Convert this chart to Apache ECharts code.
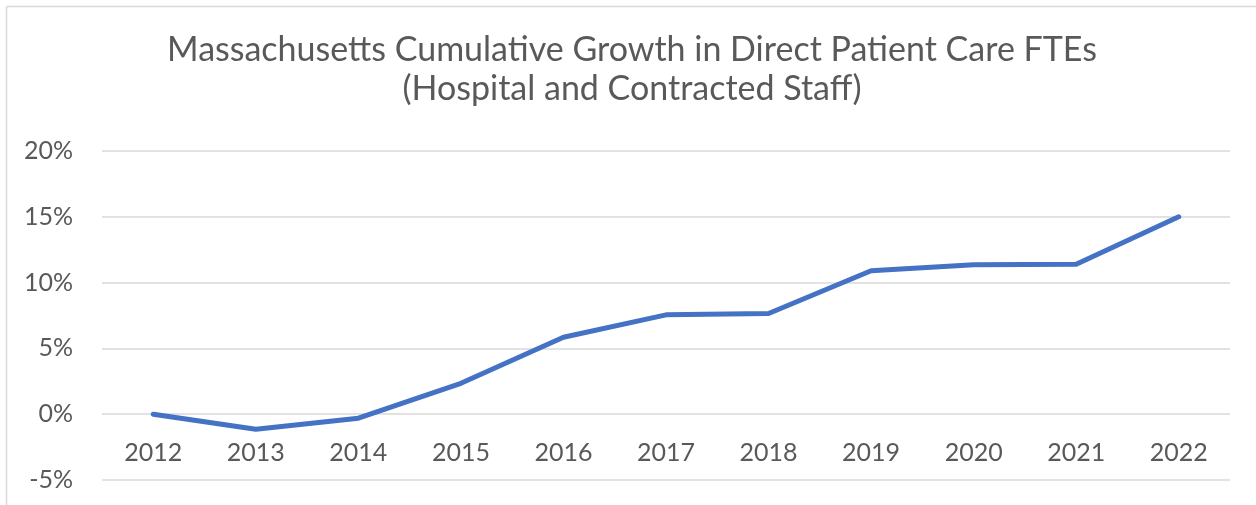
<!DOCTYPE html>
<html>
<head>
<meta charset="utf-8">
<script src="https://cdn.jsdelivr.net/npm/echarts@6/dist/echarts.min.js"></script>
<style>
  html, body { margin: 0; padding: 0; background: #fff; }
  #chart { width: 1256px; height: 505px; }
</style>
</head>
<body>
<div id="chart"></div>
<script>
const years = ['2012', '2013', '2014', '2015', '2016', '2017', '2018', '2019', '2020', '2021', '2022'];
// cumulative growth, percent
const growth = [0.0, -1.15, -0.3, 2.35, 5.85, 7.55, 7.65, 10.9, 11.35, 11.4, 15.0];
const titleLines = ['Massachusetts Cumulative Growth in Direct Patient Care FTEs', '(Hospital and Contracted Staff)'];

const gridTop = 151, gridBottom = 25, H = 505;
// category labels sit under the 0% line, one 5% step above the bottom
const stepPx = (H - gridTop - gridBottom) / 5;

const chart = echarts.init(document.getElementById('chart'));
chart.setOption({
  backgroundColor: '#fff',
  animation: false,
  title: {
    text: titleLines.join('\n'),
    left: 627,
    textAlign: 'center',
    top: 26,
    textStyle: {
      fontFamily: 'Lato',
      fontSize: 34,
      fontWeight: 'normal',
      color: '#595959',
      lineHeight: 39
    }
  },
  graphic: [
    { type: 'line', shape: { x1: 6.5, y1: 6.5, x2: 1256, y2: 6.5 }, style: { stroke: '#d9d9d9', lineWidth: 1.5 } },
    { type: 'line', shape: { x1: 6.5, y1: 6.5, x2: 6.5, y2: 505 }, style: { stroke: '#d9d9d9', lineWidth: 1.5 } }
  ],
  grid: { left: 102, right: 26, top: gridTop, bottom: gridBottom, containLabel: false, outerBoundsMode: 'none' },
  xAxis: {
    type: 'category',
    data: years,
    boundaryGap: true,
    offset: -stepPx,
    axisLine: { show: false },
    axisTick: { show: false },
    axisLabel: { fontFamily: 'Lato', fontSize: 25, color: '#595959', margin: 26 }
  },
  yAxis: {
    type: 'value',
    min: -5,
    max: 20,
    interval: 5,
    axisLine: { show: false },
    axisTick: { show: false },
    splitLine: { lineStyle: { color: '#d9d9d9', width: 1.5 } },
    axisLabel: { fontFamily: 'Lato', fontSize: 25, color: '#595959', margin: 29, formatter: '{value}%' }
  },
  series: [{
    type: 'line',
    data: growth,
    symbol: 'none',
    lineStyle: { color: '#4472c4', width: 5, cap: 'round', join: 'round' }
  }]
});
</script>
</body>
</html>
